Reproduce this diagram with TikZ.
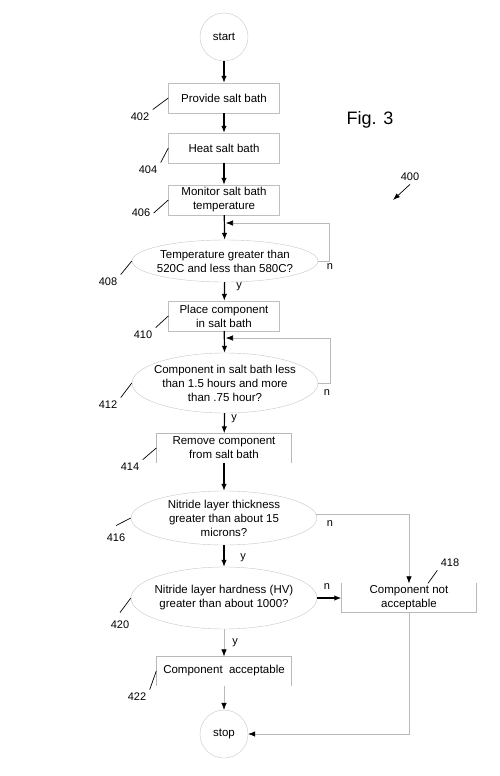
\documentclass[tikz,border=0pt]{standalone}
\usepackage{fontspec}
\setmainfont{Liberation Sans}
\usetikzlibrary{shapes.geometric,arrows.meta}

\tikzset{
    stepbox/.style={draw=gray!50, rectangle, minimum width=111pt, minimum height=30pt, align=center, inner sep=1pt},
    openbox/.style={rectangle, minimum width=135pt, minimum height=29pt, align=center, inner sep=1pt},
    decision/.style={draw=gray!45, ellipse, minimum width=186pt, inner xsep=-14pt, inner ysep=-7pt, align=center},
    term/.style={draw=gray!45, circle, minimum size=48pt, inner sep=0pt},
    flow/.style={-{Latex[length=7pt,width=5.5pt]}, line width=1.2pt},
    back/.style={draw=gray!55, line width=0.6pt},
    backarrow/.style={back, -{Latex[length=7pt,width=5.5pt,color=black]}},
    lead/.style={line width=0.7pt},
    tag/.style={font=\fontsize{11}{13}\selectfont}
}

\begin{document}
\begin{tikzpicture}[x=1pt, y=-1pt, font=\fontsize{11.5}{14}\selectfont]
    \useasboundingbox (0,0) rectangle (500,776);

    % Steps
    \node[term] (start) at (224,37) {start};
    \node[stepbox] (s402) at (224,98) {Provide salt bath};
    \node[stepbox] (s404) at (224,148) {Heat salt bath};
    \node[stepbox] (s406) at (224,200) {Monitor salt bath\\temperature};
    \node[decision, minimum height=42pt] (d408) at (225,261) {Temperature greater than\\520C and less than 580C?};
    \node[stepbox] (s410) at (224,316) {Place component\\in salt bath};
    \node[decision, minimum height=60pt] (d412) at (225,383) {Component in salt bath less\\than 1.5 hours and more\\than .75 hour?};
    \node[openbox] (s414) at (224,448) {Remove component\\from salt bath};
    \node[decision, minimum height=54pt] (d416) at (224,518) {Nitride layer thickness\\greater than about 15\\microns?};
    \node[decision, minimum height=62pt] (d420) at (224,598) {Nitride layer hardness (HV)\\greater than about 1000?};
    \node[openbox] (s418) at (409,598) {Component not\\acceptable};
    \node[openbox] (s422) at (224,671) {Component\ \ acceptable};
    \node[term] (stop) at (224,734) {stop};

    % Open boxes
    \draw[back] (s414.south west) |- (s414.north east) -- (s414.south east);
    \draw[back] (s422.south west) |- (s422.north east) -- (s422.south east);
    \draw[back] (s418.north west) |- (s418.south east) -- (s418.north east);

    % Main flow
    \draw[flow] (start) -- (s402);
    \draw[flow] (s402) -- (s404);
    \draw[flow] (s404) -- (s406);
    \draw[flow] (s406) -- (d408);
    \draw[flow] (d408) -- (s410);
    \draw[flow] (s410) -- (d412);
    \draw[flow] (d412) -- (s414);
    \draw[flow] (s414) -- (d416);
    \draw[flow] (d416) -- (d420);
    \draw[flow] (d420) -- (s418);
    \draw[backarrow] (d420) -- (s422);
    \draw[backarrow] (s422) -- (stop);

    % Loops and no branches
    \coordinate (j408) at (226,223);
    \coordinate (j412) at (226,338);
    \draw[backarrow] (d408.east) -- ++(11,0) |- (j408);
    \draw[backarrow] (d412.east) -- ++(12,0) |- (j412);
    \draw[backarrow] ([xshift=-1pt,yshift=4pt]d416.east) -| (s418.north);
    \draw[backarrow] (s418.south) |- (stop.east);

    % y / n
    \node[tag] (y408) at (239,287) {y};
    \node[tag] (y412) at (234,419) {y};
    \node[tag] (y416) at (243,558) {y};
    \node[tag] (y420) at (235,643) {y};
    \node[tag] (n408) at (330,267) {n};
    \node[tag] (n412) at (327,393) {n};
    \node[tag] (n416) at (330,524) {n};
    \node[tag] (n420) at (327,587) {n};

    % Reference numbers
    \node[tag] (t402) at (140,117) {402};
    \node[tag] (t404) at (148,170) {404};
    \node[tag] (t406) at (141,213) {406};
    \node[tag] (t408) at (108,282) {408};
    \node[tag] (t410) at (143,335) {410};
    \node[tag] (t412) at (108,405) {412};
    \node[tag] (t414) at (130,467) {414};
    \node[tag] (t416) at (116,538) {416};
    \node[tag] (t418) at (450,563) {418};
    \node[tag] (t420) at (120,625) {420};
    \node[tag] (t422) at (137,697) {422};
    \draw[lead] (t402.north east) -- (s402.west);
    \draw[lead] (t404.north east) -- (s404.west);
    \draw[lead] (t406.east) -- (s406.west);
    \draw[lead] (t408.north east) -- (d408.west);
    \draw[lead] (t410.north east) -- (s410.west);
    \draw[lead] (t412.north east) -- (d412.west);
    \draw[lead] (t414.north east) -- (s414.west);
    \draw[lead] ([yshift=5pt]t416.north) -- (d416.west);
    \draw[lead] (t418.south west) -- ([xshift=19pt]s418.north);
    \draw[lead] ([yshift=5pt]t420.north) -- (d420.west);
    \draw[lead] (t422.north east) -- (s422.west);

    % Figure label
    \node[font=\fontsize{18}{20}\selectfont] (fig) at (370,120) {Fig. 3};
    \node[tag] (t400) at (410,177) {400};
    \coordinate (p400) at (393,200);
    \draw[lead, -{Latex[length=7pt,width=5pt]}] (t400.south) -- (p400);
\end{tikzpicture}
\end{document}
